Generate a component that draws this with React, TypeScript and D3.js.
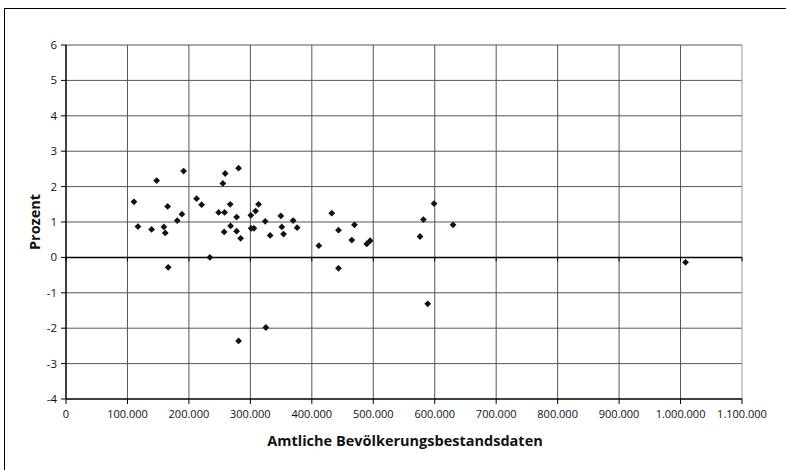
import React from "react";
import * as d3 from "d3";

// population (in persons) and percent values
const popValues: number[] = [
  110600, 117100, 139300, 147500, 159300, 161500, 165400, 166300, 181000, 188600,
  191400, 212500, 220700, 234100, 248300, 255300, 258000, 257400, 259000, 267200,
  267800, 277600, 277600, 280800, 284100, 280800, 300800, 301300, 305700, 308500,
  313300, 324100, 325200, 332200, 349600, 351200, 354000, 369600, 376100, 411400,
  432500, 443400, 443400, 465000, 469400, 489400, 494800, 576100, 581600, 588600,
  598900, 629800, 1008100,
];
const pctValues: number[] = [
  1.57, 0.87, 0.79, 2.17, 0.86, 0.69, 1.44, -0.28, 1.04, 1.22,
  2.44, 1.66, 1.49, 0.0, 1.27, 2.09, 1.27, 0.72, 2.37, 1.5,
  0.89, 1.14, 0.74, 2.52, 0.54, -2.36, 1.19, 0.82, 0.82, 1.31,
  1.5, 1.02, -1.98, 0.62, 1.17, 0.86, 0.66, 1.04, 0.84, 0.33,
  1.25, 0.77, -0.31, 0.49, 0.92, 0.38, 0.47, 0.59, 1.07, -1.31,
  1.52, 0.92, -0.14,
];
const xTicks: number[] = [0, 100000, 200000, 300000, 400000, 500000, 600000, 700000, 800000, 900000, 1000000, 1100000];
const yTicks: number[] = [-4, -3, -2, -1, 0, 1, 2, 3, 4, 5, 6];
const xTitle = "Amtliche Bevölkerungsbestandsdaten";
const yTitle = "Prozent";

const W = 786;
const H = 470;
const L = 66, R = 742, T = 45, B = 399;
const FONT = "'Open Sans', 'Liberation Sans', sans-serif";

function fmtDE(v: number): string {
  const s = Math.round(v).toString();
  return s.replace(/\B(?=(\d{3})+(?!\d))/g, ".");
}

export default function App() {
  const x = d3.scaleLinear().domain([0, 1100000]).range([L, R]);
  const y = d3.scaleLinear().domain([-4, 6]).range([B, T]);
  const diamond = d3.symbol().type(d3.symbolSquare).size(23)();
  return (
    <div style={{ position: "absolute", left: 0, top: 0 }}>
      <svg width={W} height={H} style={{ display: "block", background: "#fff" }}>
        <rect x={4.5} y={8.5} width={800} height={500} fill="#fff" stroke="#000" strokeWidth={1} />
        {/* horizontal gridlines */}
        {yTicks.filter((t) => t !== 0 && t !== -4).map((t) => (
          <line key={"hy" + t} x1={L} x2={R} y1={y(t)} y2={y(t)} stroke="#555" strokeWidth={1} />
        ))}
        {/* vertical gridlines */}
        {xTicks.filter((t) => t !== 0).map((t) => (
          <line key={"vx" + t} x1={x(t)} x2={x(t)} y1={T} y2={B} stroke={t === 1100000 ? "#999" : "#555"} strokeWidth={1} />
        ))}
        {/* zero line with ticks */}
        <line x1={L} x2={R} y1={y(0)} y2={y(0)} stroke="#000" strokeWidth={1.5} />
        {xTicks.map((t) => (
          <line key={"zt" + t} x1={x(t)} x2={x(t)} y1={y(0)} y2={y(0) + 4} stroke="#000" strokeWidth={1} />
        ))}
        {/* bottom axis */}
        <line x1={L} x2={R} y1={B} y2={B} stroke="#000" strokeWidth={1.5} />
        {xTicks.map((t) => (
          <line key={"bt" + t} x1={x(t)} x2={x(t)} y1={B} y2={B + 5} stroke="#000" strokeWidth={1} />
        ))}
        {xTicks.map((t) => (
          <text key={"xl" + t} x={x(t)} y={B + 19} textAnchor="middle" fontFamily={FONT} fontSize={11} fill="#111">
            {fmtDE(t)}
          </text>
        ))}
        {/* y axis */}
        <line x1={L} x2={L} y1={T} y2={B} stroke="#000" strokeWidth={1.5} />
        {yTicks.map((t) => (
          <g key={"yt" + t}>
            <line x1={L - 5} x2={L} y1={y(t)} y2={y(t)} stroke="#000" strokeWidth={1} />
            <text x={L - 9} y={y(t) + 4} textAnchor="end" fontFamily={FONT} fontSize={11.5} fill="#111">
              {t}
            </text>
          </g>
        ))}
        {/* points */}
        {popValues.map((p, i) => (
          <path key={"pt" + i} d={diamond || ""} transform={`translate(${x(p)},${y(pctValues[i])}) rotate(45)`} fill="#111" />
        ))}
        {/* titles */}
        <text x={(L + R) / 2 + 1} y={446} textAnchor="middle" fontFamily={FONT} fontWeight="bold" fontSize={14.5} fill="#111">
          {xTitle}
        </text>
        <text transform={`translate(40,${(T + B) / 2}) rotate(-90)`} textAnchor="middle" fontFamily={FONT} fontWeight="bold" fontSize={14.5} fill="#111">
          {yTitle}
        </text>
      </svg>
    </div>
  );
}
